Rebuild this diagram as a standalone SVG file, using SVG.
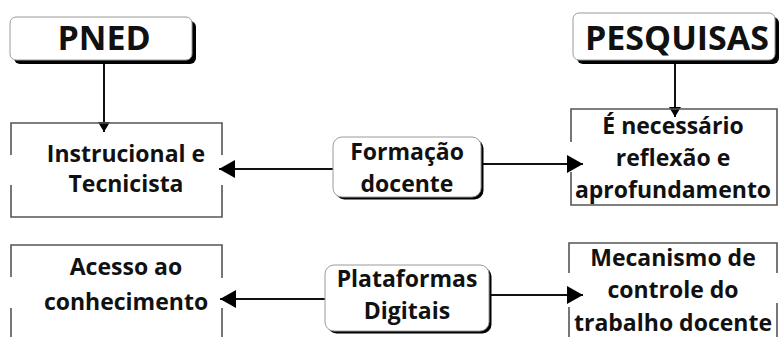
<svg xmlns="http://www.w3.org/2000/svg" width="780" height="337" viewBox="0 0 780 337">
<style>
  text { font-family: "Open Sans", "DejaVu Sans", sans-serif; font-weight: 700; fill: #111; text-anchor: middle; }
  .big { font-size: 34px; }
  .t { font-size: 23px; }
  .card { fill: #fff; stroke: #9a9a9a; stroke-width: 1; }
  .shadow { fill: #000; }
  .frame { fill: none; stroke: #555; stroke-width: 1.6; }
  .conn { stroke: #111; stroke-width: 2; fill: none; }
</style>
<defs>
  <marker id="ah" markerUnits="userSpaceOnUse" markerWidth="16" markerHeight="18" refX="16" refY="9" orient="auto">
    <path d="M0,0 L16,9 L0,18 z" fill="#000"/>
  </marker>
  <marker id="ahs" markerUnits="userSpaceOnUse" markerWidth="10" markerHeight="12" refX="10" refY="6" orient="auto">
    <path d="M0,0 L10,6 L0,12 z" fill="#000"/>
  </marker>
</defs>

<g id="connectors">
  <line class="conn" x1="104" y1="61" x2="104" y2="132" stroke-width="1.6" marker-end="url(#ahs)"/>
  <line class="conn" x1="675" y1="61" x2="675" y2="117" stroke-width="1.6" marker-end="url(#ahs)"/>
  <line class="conn" x1="333" y1="169" x2="219" y2="169" marker-end="url(#ah)"/>
  <line class="conn" x1="482" y1="164" x2="583" y2="164" marker-end="url(#ah)"/>
  <line class="conn" x1="325" y1="299" x2="220" y2="299" marker-end="url(#ah)"/>
  <line class="conn" x1="490" y1="295" x2="583" y2="295" marker-end="url(#ah)"/>
</g>

<g id="pned">
  <rect class="shadow" x="14" y="21" width="182" height="43" rx="6"/>
  <rect class="card" x="10" y="17" width="182" height="43" rx="6"/>
  <text class="big" x="104" y="50">PNED</text>
</g>

<g id="pesquisas">
  <rect class="shadow" x="577" y="17" width="202" height="47" rx="6"/>
  <rect class="card" x="573" y="13" width="202" height="47" rx="6"/>
  <text class="big" x="677" y="50">PESQUISAS</text>
</g>

<g id="instrucional">
  <path class="frame" d="M11,155 V123 H222 V155 M222,185 V217 H11 V185"/>
  <text class="t" x="126" y="162">Instrucional e</text>
  <text class="t" x="126" y="192">Tecnicista</text>
</g>

<g id="formacao">
  <rect class="shadow" x="335.5" y="139.5" width="148" height="60" rx="9"/>
  <rect class="card" x="333" y="137" width="148" height="60" rx="9"/>
  <text class="t" x="407" y="160">Formação</text>
  <text class="t" x="407" y="192">docente</text>
</g>

<g id="necessario">
  <path class="frame" d="M571,142 V109 H777 V205 H571 V172"/>
  <text class="t" x="673" y="134">É necessário</text>
  <text class="t" x="673" y="166">reflexão e</text>
  <text class="t" x="673" y="198">aprofundamento</text>
</g>

<g id="acesso">
  <path class="frame" d="M11,277 V245 H222 V278 M222,308 V340 M11,308 V340"/>
  <text class="t" x="126" y="275">Acesso ao</text>
  <text class="t" x="126" y="310">conhecimento</text>
</g>

<g id="plataformas">
  <rect class="shadow" x="327.5" y="267.5" width="164" height="66" rx="9"/>
  <rect class="card" x="325" y="265" width="164" height="66" rx="9"/>
  <text class="t" x="407" y="287">Plataformas</text>
  <text class="t" x="407" y="319">Digitais</text>
</g>

<g id="mecanismo">
  <path class="frame" d="M569,273 V243 H777 V273 M777,303 V340 M569,307 V340"/>
  <text class="t" x="673" y="266">Mecanismo de</text>
  <text class="t" x="673" y="298">controle do</text>
  <text class="t" x="673" y="331">trabalho docente</text>
</g>
</svg>
